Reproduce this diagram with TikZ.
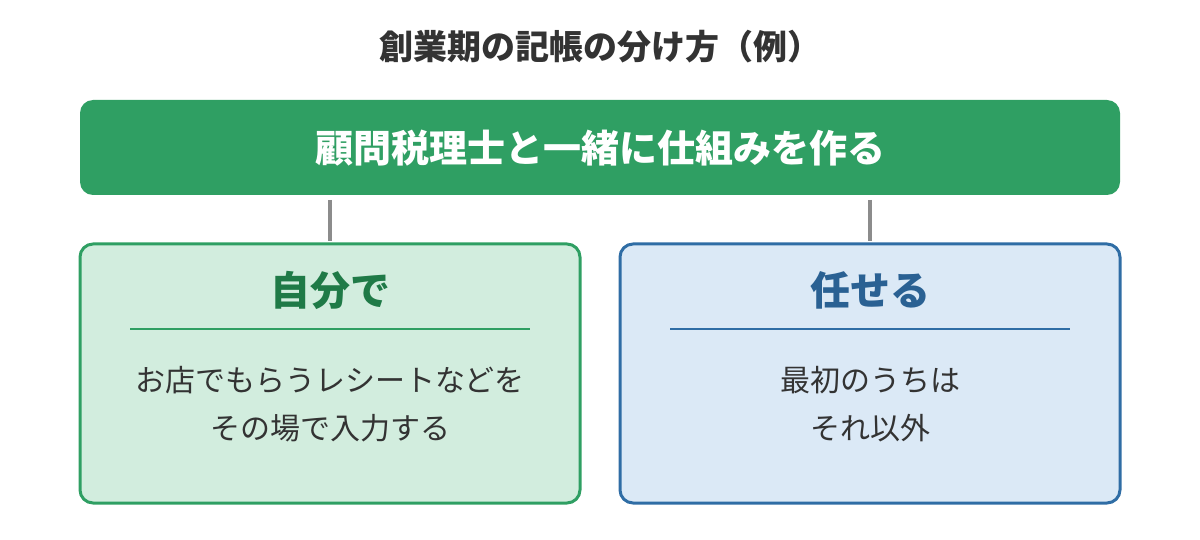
\documentclass[tikz,border=0pt]{standalone}
\usepackage{fontspec}
\setmainfont{Noto Sans CJK JP}
\definecolor{topgreen}{HTML}{2F9F63}
\definecolor{lgfill}{HTML}{D2EDDE}
\definecolor{lghead}{HTML}{1F7A47}
\definecolor{bstroke}{HTML}{2F6DA5}
\definecolor{bfill}{HTML}{DBE9F6}
\definecolor{bhead}{HTML}{2A6193}
\definecolor{bodytxt}{HTML}{333333}
\definecolor{titletxt}{HTML}{333333}
\definecolor{conngray}{HTML}{8C8C8C}
\begin{document}
\begin{tikzpicture}[x=1pt,y=-1pt,
  panel/.style={draw, line width=3pt, rounded corners=13pt},
  heading/.style={font=\fontsize{40}{44}\selectfont\bfseries, anchor=center},
  bodytext/.style={font=\fontsize{30}{48}\selectfont, text=bodytxt, align=center, anchor=center},
  conn/.style={draw=conngray, line width=4pt}]
\useasboundingbox (0,0) rectangle (1200,540);
\node[font=\fontsize{34}{38}\selectfont\bfseries, text=titletxt] (title) at (600,47) {創業期の記帳の分け方（例）};
\fill[topgreen, rounded corners=13pt] (80,100) rectangle (1120,195);
\node[font=\fontsize{38}{42}\selectfont\bfseries, text=white] (top) at (600,148) {顧問税理士と一緒に仕組みを作る};
\coordinate (topL) at (330,200);
\coordinate (topR) at (870,200);
\draw[panel, draw=topgreen, fill=lgfill] (80,244) rectangle (580,503);
\draw[panel, draw=bstroke, fill=bfill] (620,244) rectangle (1120,503);
\coordinate (leftT) at (330,241);
\coordinate (rightT) at (870,241);
\draw[conn] (topL) -- (leftT);
\draw[conn] (topR) -- (rightT);
\node[heading, text=lghead] (lh) at (330,290) {自分で};
\node[heading, text=bhead] (rh) at (870,290) {任せる};
\coordinate (ld1) at (130,329); \coordinate (ld2) at (530,329);
\coordinate (rd1) at (670,329); \coordinate (rd2) at (1070,329);
\draw[topgreen, line width=1.5pt] (ld1) -- (ld2);
\draw[bstroke, line width=1.5pt] (rd1) -- (rd2);
\node[bodytext] (lb) at (330,404) {お店でもらうレシートなどを\\その場で入力する};
\node[bodytext] (rb) at (870,404) {最初のうちは\\それ以外};
\end{tikzpicture}
\end{document}
